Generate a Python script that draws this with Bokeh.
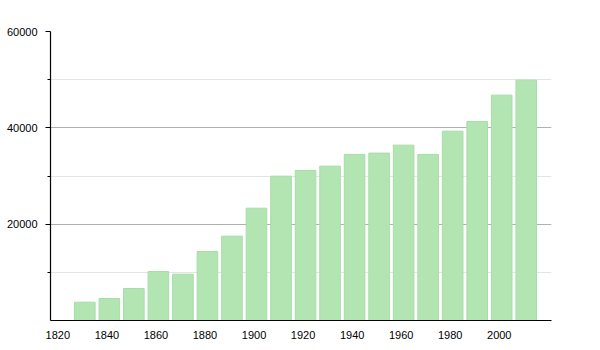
from bokeh.plotting import figure
from bokeh.models import FixedTicker, Range1d
from bokeh.embed import file_html
from bokeh.resources import INLINE

years = [1831, 1841, 1851, 1861, 1871, 1881, 1891, 1901, 1911, 1921,
         1931, 1941, 1951, 1961, 1971, 1981, 1991, 2001, 2011]
population = [3800, 4570, 6650, 10180, 9620, 14330, 17510, 23320, 29970, 31150,
              32050, 34480, 34750, 36410, 34480, 39310, 41330, 46790, 49900]
x_ticks = [1820, 1840, 1860, 1880, 1900, 1920, 1940, 1960, 1980, 2000]
y_ticks = [20000, 40000, 60000]
y_minor = [10000, 30000, 50000]

p = figure(width=600, height=350, output_backend="svg", toolbar_location=None,
           x_range=Range1d(1817.0, 2021.3), y_range=Range1d(0, 60000),
           min_border_left=50, min_border_right=49, min_border_top=31, min_border_bottom=30)
p.outline_line_color = None
p.background_fill_color = "white"
p.border_fill_color = "white"

p.vbar(x=years, top=population, width=8.4, fill_color="#b3e5b3",
       line_color="#a9dca9", line_width=1)

font = "Liberation Sans"
p.xaxis.ticker = FixedTicker(ticks=x_ticks)
p.xaxis.major_tick_line_color = None
p.xaxis.minor_tick_line_color = None
p.xaxis.axis_line_color = "black"
p.xaxis.axis_line_width = 1.2
p.xaxis.major_label_standoff = 4
p.xaxis.major_label_text_font = font
p.xaxis.major_label_text_font_size = "11px"
p.xaxis.major_label_text_color = "black"

p.yaxis.ticker = FixedTicker(ticks=y_ticks, minor_ticks=y_minor)
p.yaxis.major_tick_out = 5
p.yaxis.major_tick_in = 0
p.yaxis.minor_tick_out = 3
p.yaxis.minor_tick_in = 0
p.yaxis.major_tick_line_color = "black"
p.yaxis.minor_tick_line_color = "black"
p.yaxis.axis_line_color = "black"
p.yaxis.axis_line_width = 1.2
p.yaxis.major_label_standoff = 8
p.yaxis.major_label_text_font = font
p.yaxis.major_label_text_font_size = "11px"
p.yaxis.major_label_text_color = "black"

p.xgrid.grid_line_color = None
p.ygrid.grid_line_color = "#b0b0b0"
p.ygrid.minor_grid_line_color = "#e4e4e4"

open("out.html", "w").write(file_html(p, INLINE))
